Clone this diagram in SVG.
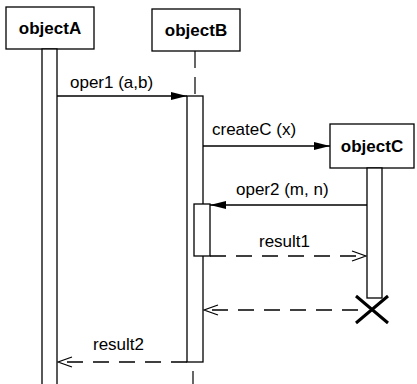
<svg xmlns="http://www.w3.org/2000/svg" width="417" height="384" viewBox="0 0 417 384">
<style>
.box{fill:#fff;stroke:#000;stroke-width:1.3}
.bar{fill:#fff;stroke:#000;stroke-width:1.3}
.hd{font-family:"Liberation Sans",Arial,sans-serif;font-weight:bold;font-size:17px;text-anchor:middle}
.lb{font-family:"Liberation Sans",Arial,sans-serif;font-size:17px}
.msg{stroke:#000;stroke-width:1.3;fill:none}
.ret{stroke:#000;stroke-width:1.3;fill:none;stroke-dasharray:16 10}
.life{stroke:#000;stroke-width:1.2;stroke-dasharray:17 9}
</style>
<defs>
<marker id="fill" markerWidth="16" markerHeight="10" refX="16" refY="5" orient="auto" markerUnits="userSpaceOnUse">
<path d="M0,1 L16,5 L0,9 Z" fill="#000"/>
</marker>
<marker id="open" markerWidth="16" markerHeight="12" refX="15" refY="6" orient="auto" markerUnits="userSpaceOnUse">
<path d="M1,1 L15,6 L1,11" fill="none" stroke="#000" stroke-width="1.3"/>
</marker>
</defs>
<rect width="417" height="384" fill="#fff"/>

<g id="objectA">
<rect class="box" x="6" y="7" width="88" height="42"/>
<text class="hd" x="50" y="34">objectA</text>
<rect class="bar" x="42" y="49" width="15" height="340"/>
</g>

<g id="objectB">
<rect class="box" x="152" y="9" width="88" height="42"/>
<text class="hd" x="196" y="36">objectB</text>
<line class="life" x1="195" y1="51" x2="195" y2="96"/>
<rect class="bar" x="187" y="96" width="16" height="266"/>
<rect class="bar" x="194" y="204" width="16" height="52"/>
<line class="life" x1="193" y1="371" x2="193" y2="384"/>
</g>

<g id="objectC">
<rect class="box" x="330" y="124" width="84" height="44"/>
<text class="hd" x="372" y="152">objectC</text>
<rect class="bar" x="367" y="168" width="15" height="130"/>
<path d="M356,296 L388,323 M388,296 L356,323" stroke="#000" stroke-width="3" fill="none"/>
</g>

<g id="connectors">
<line class="msg" x1="57" y1="96" x2="187" y2="96" marker-end="url(#fill)"/>
<text class="lb" x="70" y="88">oper1 (a,b)</text>
<line class="msg" x1="203" y1="146" x2="330" y2="146" marker-end="url(#fill)"/>
<text class="lb" x="212" y="135">createC (x)</text>
<line class="msg" x1="367" y1="205" x2="210" y2="205" marker-end="url(#fill)"/>
<text class="lb" x="236" y="195">oper2 (m, n)</text>
<line class="ret" x1="210" y1="256" x2="366" y2="256" marker-end="url(#open)"/>
<text class="lb" x="259" y="247">result1</text>
<line class="ret" x1="358" y1="310" x2="204" y2="310" marker-end="url(#open)"/>
<line class="ret" x1="187" y1="362" x2="58" y2="362" marker-end="url(#open)"/>
<text class="lb" x="93" y="350">result2</text>
</g>
</svg>
